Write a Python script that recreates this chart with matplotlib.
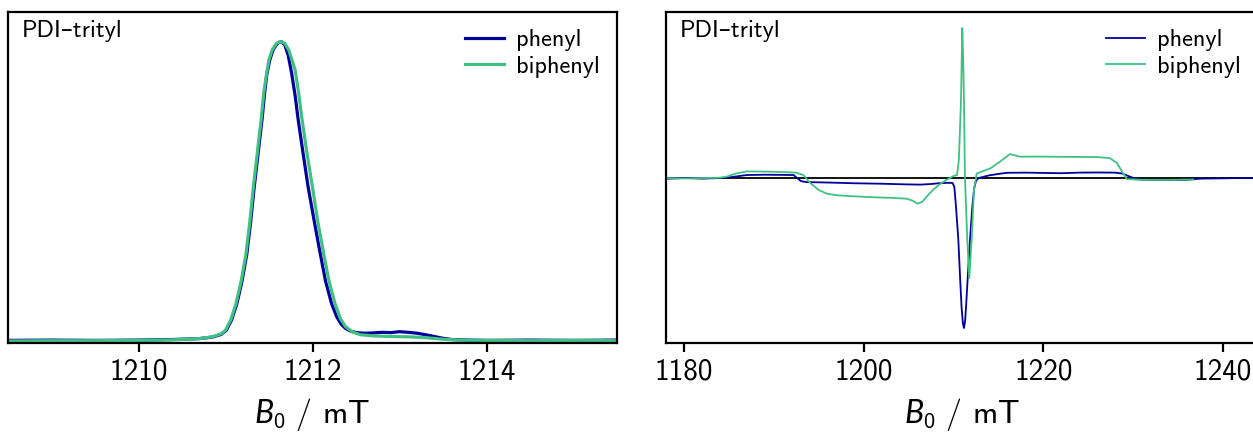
import matplotlib
import matplotlib.pyplot as plt
matplotlib.use('Agg')

# ---- left panel: field-swept spectra (normalised) ----
left_ph_B = [1208.5, 1209.0, 1209.5, 1210.0, 1210.4, 1210.7, 1210.85, 1210.95, 1211.01, 1211.07,
             1211.13, 1211.19, 1211.245, 1211.29, 1211.33, 1211.38, 1211.42, 1211.45, 1211.475, 1211.51,
             1211.55, 1211.6, 1211.64, 1211.68, 1211.72, 1211.76, 1211.80, 1211.835, 1211.89, 1211.95,
             1212.02, 1212.09, 1212.15, 1212.22, 1212.28, 1212.33, 1212.38, 1212.43, 1212.5, 1212.6,
             1212.7, 1212.8, 1212.9, 1213.0, 1213.1, 1213.2, 1213.3, 1213.4, 1213.5, 1213.6,
             1213.8, 1214.0, 1214.5, 1215.0, 1215.5]
left_ph_y = [0.002, 0.003, 0.002, 0.003, 0.005, 0.008, 0.013, 0.022, 0.036, 0.07,
             0.124, 0.2, 0.29, 0.40, 0.514, 0.64, 0.74, 0.83, 0.89, 0.94,
             0.975, 0.995, 1.0, 0.99, 0.955, 0.895, 0.82, 0.74, 0.63, 0.514,
             0.40, 0.29, 0.20, 0.124, 0.08, 0.056, 0.042, 0.034, 0.028, 0.026,
             0.027, 0.029, 0.028, 0.031, 0.029, 0.026, 0.021, 0.015, 0.009, 0.005,
             0.003, 0.002, 0.003, 0.002, 0.003]

left_bi_B = [1208.5, 1209.0, 1209.5, 1210.0, 1210.4, 1210.7, 1210.85, 1210.95, 1211.0, 1211.06,
             1211.12, 1211.18, 1211.235, 1211.28, 1211.32, 1211.37, 1211.41, 1211.44, 1211.47, 1211.5,
             1211.54, 1211.59, 1211.63, 1211.68, 1211.73, 1211.8, 1211.84, 1211.88, 1211.94, 1212.0,
             1212.06, 1212.13, 1212.19, 1212.26, 1212.32, 1212.38, 1212.46, 1212.55, 1212.7, 1212.9,
             1213.1, 1213.3, 1213.5, 1213.7, 1214.0, 1214.5, 1215.0, 1215.5]
left_bi_y = [0.0, 0.001, 0.001, 0.002, 0.004, 0.008, 0.014, 0.024, 0.036, 0.07,
             0.124, 0.2, 0.29, 0.40, 0.514, 0.64, 0.74, 0.83, 0.89, 0.94,
             0.975, 0.995, 1.0, 0.995, 0.97, 0.906, 0.83, 0.74, 0.62, 0.514,
             0.40, 0.29, 0.20, 0.124, 0.075, 0.048, 0.030, 0.021, 0.017, 0.015,
             0.014, 0.011, 0.006, 0.003, 0.002, 0.001, 0.002, 0.001]

# ---- right panel: transient spectra ----
right_ph_B = [1178.0, 1180.0, 1182.0, 1184.0, 1185.0, 1186.0, 1187.0, 1189.0, 1191.0, 1192.2,
              1192.6, 1193.0, 1193.6, 1196.0, 1199.0, 1202.0, 1204.5, 1206.3, 1207.5, 1208.5,
              1209.5, 1209.9, 1210.1, 1210.28, 1210.54, 1210.75, 1210.9, 1211.05, 1211.17, 1211.3,
              1211.4, 1211.6, 1211.84, 1212.1, 1212.3, 1212.5, 1212.8, 1214.0, 1215.2, 1216.0,
              1218.0, 1220.0, 1222.0, 1224.0, 1226.0, 1228.0, 1228.8, 1229.6, 1230.4, 1232.0,
              1234.0, 1236.0, 1237.5, 1240.0, 1242.0, 1244.0]
right_ph_y = [-0.005, 0.0, -0.004, 0.0, 0.004, 0.012, 0.02, 0.022, 0.021, 0.02,
              0.0, -0.02, -0.027, -0.03, -0.035, -0.038, -0.042, -0.044, -0.04, -0.034,
              -0.032, -0.033, -0.06, -0.19, -0.41, -0.68, -0.86, -0.97, -1.0, -0.95,
              -0.86, -0.65, -0.41, -0.19, -0.07, -0.02, 0.0, 0.018, 0.029, 0.035,
              0.036, 0.034, 0.032, 0.036, 0.037, 0.036, 0.03, 0.01, -0.008, -0.013,
              -0.014, -0.012, -0.004, -0.002, 0.0, 0.0]

right_bi_B = [1178.0, 1180.0, 1182.0, 1184.0, 1184.8, 1185.8, 1187.0, 1189.0, 1191.0, 1192.5,
              1193.3, 1194.0, 1195.0, 1195.9, 1197.0, 1199.0, 1201.0, 1203.0, 1204.8, 1205.5,
              1206.0, 1206.5, 1207.0, 1207.7, 1208.5, 1209.2, 1210.0, 1210.4, 1210.6, 1210.84,
              1210.98, 1211.1, 1211.17, 1211.28, 1211.54, 1211.76, 1212.02, 1212.28, 1212.58, 1213.0,
              1214.1, 1215.2, 1216.3, 1217.4, 1219.0, 1221.0, 1223.0, 1225.9, 1227.4, 1228.2,
              1228.8, 1229.3, 1231.0, 1233.0, 1235.0, 1236.7]
right_bi_y = [0.0, -0.003, 0.0, 0.002, 0.01, 0.03, 0.044, 0.043, 0.04, 0.036,
              0.02, -0.03, -0.08, -0.104, -0.115, -0.122, -0.128, -0.132, -0.138, -0.152,
              -0.171, -0.16, -0.125, -0.08, -0.04, -0.013, 0.013, 0.02, 0.12, 0.52,
              1.0, 0.75, 0.52, 0.0, -0.413, -0.667, -0.413, -0.082, 0.029, 0.04,
              0.064, 0.11, 0.16, 0.142, 0.143, 0.142, 0.141, 0.14, 0.133, 0.1,
              0.04, -0.007, -0.012, -0.013, -0.012, -0.01]

left_ticks = [1210, 1212, 1214]
right_ticks = [1180, 1200, 1220, 1240]
labels = ['phenyl', 'biphenyl']
blue = '#00009a'
green = '#40c083'

plt.rcParams['font.family'] = ['cmss10', 'DejaVu Sans']
plt.rcParams['mathtext.fontset'] = 'custom'
plt.rcParams['mathtext.rm'] = 'cmss10'
plt.rcParams['mathtext.it'] = 'Lato:italic'
plt.rcParams['axes.unicode_minus'] = False

fig = plt.figure(figsize=(12.53, 4.32), dpi=100)
ax1 = fig.add_axes([8 / 1253, 89 / 432, 609 / 1253, 331 / 432])
ax2 = fig.add_axes([666 / 1253, 89 / 432, 592 / 1253, 331 / 432])

ax1.plot(left_ph_B, left_ph_y, color=blue, lw=2.3, label=labels[0])
ax1.plot(left_bi_B, left_bi_y, color=green, lw=2.3, label=labels[1])
ax1.set_xlim(1208.5, 1215.5)
ax1.set_ylim(-0.0067, 1.099)
ax1.set_xticks(left_ticks)

ax2.axhline(0, color='black', lw=1.3)
ax2.plot(right_ph_B, right_ph_y, color=blue, lw=1.3, label=labels[0])
ax2.plot(right_bi_B, right_bi_y, color=green, lw=1.3, label=labels[1])
ax2.set_xlim(1178.0, 1243.9)
ax2.set_ylim(-1.1, 1.107)
ax2.set_xticks(right_ticks)

for ax in (ax1, ax2):
    ax.set_yticks([])
    for sp in ax.spines.values():
        sp.set_linewidth(1.6)
    ax.tick_params(axis='x', direction='out', length=6.5, width=1.6, labelsize=21, pad=5)
    ax.set_xlabel('$B_0$ / mT', fontsize=23, labelpad=7)
    ax.text(0.023, 0.975, 'PDI–trityl', transform=ax.transAxes, fontsize=17.5,
            ha='left', va='top')
    ax.legend(loc='upper right', frameon=False, fontsize=17.5, handlelength=1.6,
              handletextpad=0.5, borderaxespad=0.3, labelspacing=0.2)

fig.savefig('out.png', dpi=100)
